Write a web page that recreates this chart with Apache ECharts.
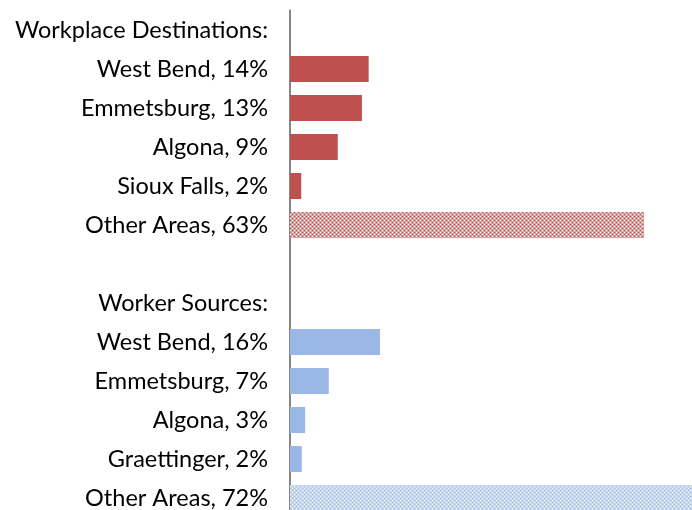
<!DOCTYPE html>
<html>
<head>
<meta charset="utf-8">
<script src="https://cdn.jsdelivr.net/npm/echarts@6/dist/echarts.min.js"></script>
<style>
  html, body { margin: 0; padding: 0; background: #fff; }
  #chart { width: 692px; height: 510px; }
</style>
</head>
<body>
<div id="chart"></div>
<script>
// rows from top to bottom, header rows and the spacer have no bar
var categories = [
  'Workplace Destinations:',
  'West Bend, 14%', 'Emmetsburg, 13%', 'Algona, 9%', 'Sioux Falls, 2%', 'Other Areas, 63%',
  '',
  'Worker Sources:',
  'West Bend, 16%', 'Emmetsburg, 7%', 'Algona, 3%', 'Graettinger, 2%', 'Other Areas, 72%'
];
var destValues = [null, 14, 12.8, 8.5, 2, 63, null, null, null, null, null, null, null];
var sourceValues = [null, null, null, null, null, null, null, null, 16, 6.9, 2.7, 2.1, 72];
// which rows are the "other areas" (hatched) bars
var otherRows = [5, 12];

var red = '#C0504D';
var blue = '#9BB7E5';

// dotted pattern for the hatched bars
function makePattern(color) {
  var c = document.createElement('canvas');
  c.width = 4;
  c.height = 4;
  var ctx = c.getContext('2d');
  ctx.fillStyle = '#ffffff';
  ctx.fillRect(0, 0, 4, 4);
  ctx.globalAlpha = 0.55;
  ctx.fillStyle = color;
  ctx.fillRect(0, 0, 4, 4);
  ctx.globalAlpha = 1;
  ctx.fillRect(2, 0, 1, 1);
  ctx.fillRect(0, 2, 1, 1);
  ctx.fillStyle = '#ffffff';
  ctx.fillRect(0, 0, 1, 1);
  ctx.fillRect(2, 2, 1, 1);
  return { image: c, repeat: 'repeat' };
}

function buildData(values, color) {
  return values.map(function (v, i) {
    if (otherRows.indexOf(i) >= 0 && v != null) {
      return { value: v, itemStyle: { color: makePattern(color) } };
    }
    return v;
  });
}

var chart = echarts.init(document.getElementById('chart'), null, { renderer: 'canvas' });

var option = {
  animation: false,
  grid: {
    left: 290,
    top: 10.5,
    width: 449.6,
    height: 507,
    outerBoundsMode: 'none'
  },
  xAxis: {
    type: 'value',
    min: 0,
    max: 80,
    show: false
  },
  yAxis: {
    type: 'category',
    inverse: true,
    data: categories,
    axisLine: { show: true, lineStyle: { color: '#868686', width: 2 } },
    axisTick: { show: false },
    axisLabel: {
      margin: 22,
      fontFamily: 'Lato',
      fontSize: 23.5,
      color: '#000'
    }
  },
  series: [
    {
      name: 'Workplace Destinations',
      type: 'bar',
      stack: 'all',
      barWidth: 26,
      itemStyle: { color: red },
      data: buildData(destValues, red)
    },
    {
      name: 'Worker Sources',
      type: 'bar',
      stack: 'all',
      barWidth: 26,
      itemStyle: { color: blue },
      data: buildData(sourceValues, blue)
    }
  ]
};

chart.setOption(option);
</script>
</body>
</html>
